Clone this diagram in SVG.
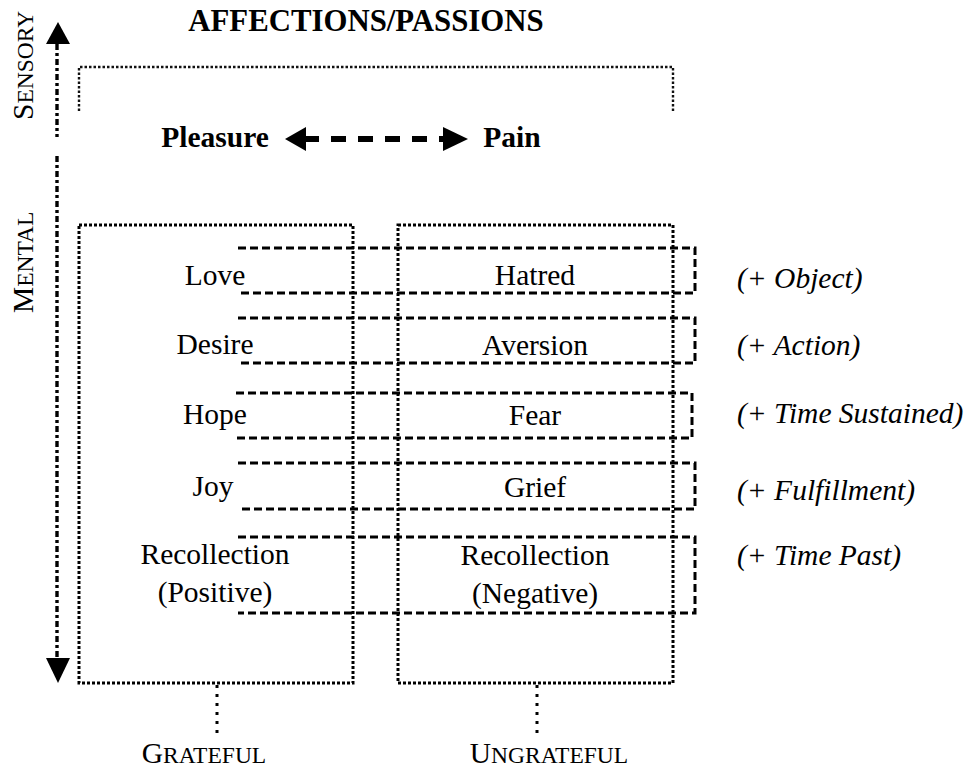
<svg xmlns="http://www.w3.org/2000/svg" width="975" height="770" viewBox="0 0 975 770">
  <style>
    text { font-family: "Liberation Serif", "Times New Roman", serif; fill: #000; }
    .lbl { font-size: 29.5px; text-anchor: middle; }
    .bold { font-weight: bold; }
    .note { font-size: 29.5px; font-style: italic; }
    .sc { font-size: 23.5px; }
    .dotbox { fill: none; stroke: #000; stroke-width: 3; stroke-dasharray: 3 2; }
    .thin { fill: none; stroke: #111; stroke-width: 2.4; stroke-dasharray: 2.5 2; }
    .row { fill: none; stroke: #000; stroke-width: 3; stroke-dasharray: 8 4; }
    .axis { fill: none; stroke: #000; stroke-width: 3.4; stroke-dasharray: 6 3 3 3; }
    .tick { fill: none; stroke: #000; stroke-width: 3; stroke-dasharray: 3 6; }
  </style>
  <rect width="975" height="770" fill="#fff"/>

  <!-- heading -->
  <text id="title" class="lbl bold" x="366" y="31" style="font-size:30.8px">AFFECTIONS/PASSIONS</text>

  <!-- vertical sensory / mental axis -->
  <g id="axis">
    <polygon points="58,22 46,44 70,44" fill="#000"/>
    <line class="axis" x1="57" y1="44" x2="57" y2="137"/>
    <line class="axis" x1="57" y1="156" x2="57" y2="658"/>
    <polygon points="58,683 46,658 70,658" fill="#000"/>
    <text transform="translate(33,120) rotate(-90)"><tspan style="font-size:29.5px">S</tspan><tspan class="sc">ENSORY</tspan></text>
    <text transform="translate(33,313) rotate(-90)"><tspan style="font-size:29.5px">M</tspan><tspan class="sc">ENTAL</tspan></text>
  </g>

  <!-- sensory bracket -->
  <g id="sensory">
    <path class="thin" d="M79,111 V67 H673 V111"/>
    <text class="lbl bold" x="215" y="147">Pleasure</text>
    <text class="lbl bold" x="512" y="147">Pain</text>
  </g>

  <!-- pleasure / pain connector -->
  <g id="connectors">
    <line x1="304" y1="139" x2="444" y2="139" stroke="#000" stroke-width="6" stroke-dasharray="15 12"/>
    <polygon points="285,139 306,127 306,151" fill="#000"/>
    <polygon points="468,139 443,127 443,151" fill="#000"/>
  </g>

  <!-- grateful column -->
  <g id="grateful">
    <rect class="dotbox" x="79" y="225" width="274" height="458"/>
    <line class="tick" x1="217" y1="685" x2="217" y2="733"/>
    <text class="lbl" x="204" y="763"><tspan style="font-size:29.5px">G</tspan><tspan class="sc">RATEFUL</tspan></text>
  </g>

  <!-- ungrateful column -->
  <g id="ungrateful">
    <rect class="dotbox" x="398" y="225" width="275" height="458"/>
    <line class="tick" x1="537" y1="685" x2="537" y2="733"/>
    <text class="lbl" x="549" y="763"><tspan style="font-size:29.5px">U</tspan><tspan class="sc">NGRATEFUL</tspan></text>
  </g>

  <!-- paired rows -->
  <g id="row-object">
    <path class="row" d="M238,248 H695 V293 H238"/>
    <text class="lbl" x="215" y="285">Love</text>
    <text class="lbl" x="535" y="285">Hatred</text>
    <text class="note" x="737" y="288">(+ Object)</text>
  </g>
  <g id="row-action">
    <path class="row" d="M238,318 H695 V363 H238"/>
    <text class="lbl" x="215" y="354">Desire</text>
    <text class="lbl" x="535" y="355">Aversion</text>
    <text class="note" x="737" y="355">(+ Action)</text>
  </g>
  <g id="row-time-sustained">
    <path class="row" d="M236,393 H692 V438 H236"/>
    <text class="lbl" x="215" y="424">Hope</text>
    <text class="lbl" x="535" y="425">Fear</text>
    <text class="note" x="737" y="423">(+ Time Sustained)</text>
  </g>
  <g id="row-fulfillment">
    <path class="row" d="M238,463 H695 V509 H238"/>
    <text class="lbl" x="213" y="496">Joy</text>
    <text class="lbl" x="535" y="497">Grief</text>
    <text class="note" x="737" y="500">(+ Fulfillment)</text>
  </g>
  <g id="row-time-past">
    <path class="row" d="M238,537 H695 V613 H238"/>
    <text class="lbl" x="215" y="564">Recollection</text>
    <text class="lbl" x="215" y="602">(Positive)</text>
    <text class="lbl" x="535" y="565">Recollection</text>
    <text class="lbl" x="535" y="603">(Negative)</text>
    <text class="note" x="737" y="565">(+ Time Past)</text>
  </g>
</svg>
